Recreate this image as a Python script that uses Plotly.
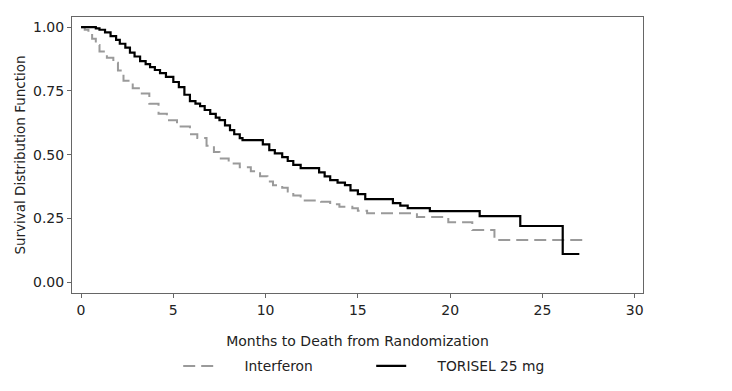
import plotly.graph_objects as go

# Kaplan-Meier step points (months, survival)
torisel_t = [0, 0.8, 1.0, 1.3, 1.6, 1.9, 2.1, 2.4, 2.65, 2.9, 3.2, 3.5, 3.74, 4.0, 4.28, 4.6,
             5.0, 5.3, 5.6, 5.9, 6.2, 6.45, 6.7, 7.0, 7.3, 7.5, 7.8, 8.07, 8.3, 8.6, 8.75,
             9.85, 10.2, 10.5, 10.9, 11.2, 11.5, 11.9, 12.9, 13.2, 13.5, 13.9, 14.3, 14.6,
             15.0, 15.4, 16.9, 17.3, 17.7, 18.9, 21.6, 23.8, 26.1, 27.0]
torisel_s = [1.00, 0.995, 0.99, 0.98, 0.965, 0.95, 0.935, 0.92, 0.90, 0.885, 0.867, 0.855,
             0.843, 0.832, 0.82, 0.805, 0.785, 0.765, 0.735, 0.71, 0.70, 0.69, 0.675, 0.66,
             0.645, 0.635, 0.615, 0.596, 0.58, 0.565, 0.557, 0.54, 0.518, 0.505, 0.49, 0.475,
             0.46, 0.447, 0.43, 0.415, 0.40, 0.39, 0.38, 0.36, 0.345, 0.325, 0.31, 0.30, 0.29,
             0.278, 0.259, 0.22, 0.11, 0.11]

interferon_t = [0, 0.2, 0.4, 0.6, 0.8, 1.0, 1.4, 1.75, 2.0, 2.3, 2.8, 3.2, 3.7, 4.2, 4.65,
                5.2, 5.9, 6.3, 6.8, 7.2, 7.5, 8.0, 8.6, 9.2, 9.7, 10.1, 10.4, 10.9, 11.2,
                11.5, 11.9, 13.0, 13.5, 14.0, 14.7, 15.0, 15.5, 18.2, 19.9, 21.2, 22.4, 27.4]
interferon_s = [1.00, 0.99, 0.975, 0.955, 0.93, 0.905, 0.88, 0.86, 0.83, 0.79, 0.76, 0.74,
                0.70, 0.66, 0.635, 0.61, 0.58, 0.565, 0.535, 0.51, 0.485, 0.465, 0.45, 0.435,
                0.415, 0.395, 0.38, 0.37, 0.355, 0.34, 0.32, 0.315, 0.305, 0.295, 0.29, 0.28,
                0.27, 0.255, 0.235, 0.204, 0.165, 0.165]

x_ticks = [0, 5, 10, 15, 20, 25, 30]
y_ticks = [0.00, 0.25, 0.50, 0.75, 1.00]
y_tick_labels = ["0.00", "0.25", "0.50", "0.75", "1.00"]

NB = "\u00a0" * 6

fig = go.Figure()
fig.add_trace(go.Scatter(
    x=interferon_t, y=interferon_s, mode="lines", line_shape="hv",
    name=NB + "Interferon",
    line=dict(color="#9a9a9a", width=2, dash="12px,6px"),
))
fig.add_trace(go.Scatter(
    x=torisel_t, y=torisel_s, mode="lines", line_shape="hv",
    name=NB + "TORISEL 25 mg",
    line=dict(color="#000000", width=2.2),
))

axis_font = dict(family="DejaVu Sans, Liberation Sans, sans-serif", size=14, color="#222")
ytitle_font = dict(family="DejaVu Sans, Liberation Sans, sans-serif", size=13.5, color="#222")
legend_font = dict(family="DejaVu Sans, Liberation Sans, sans-serif", size=13.8, color="#222")

fig.update_layout(
    width=724, height=383,
    margin=dict(l=64, r=89, t=9, b=98, autoexpand=False),
    paper_bgcolor="white", plot_bgcolor="white",
    font=axis_font,
    showlegend=True,
    legend=dict(
        orientation="h", x=0.186, xanchor="left", y=-0.208, yanchor="top",
        entrywidth=148, entrywidthmode="pixels",
        font=legend_font, bgcolor="rgba(0,0,0,0)",
    ),
    xaxis=dict(
        range=[-0.49, 30.45], tickmode="array", tickvals=x_ticks,
        ticks="outside", ticklen=4, tickcolor="#666",
        showline=True, linecolor="#666", linewidth=1, mirror=True,
        showgrid=False, zeroline=False, automargin=False,
        title=dict(text="Months to Death from Randomization", font=axis_font, standoff=19),
        tickfont=axis_font,
    ),
    yaxis=dict(
        range=[-0.043, 1.04], tickmode="array", tickvals=y_ticks, ticktext=y_tick_labels,
        ticks="outside", ticklen=4, tickcolor="#666",
        showline=True, linecolor="#666", linewidth=1, mirror=True,
        showgrid=False, zeroline=False, automargin=False,
        title=dict(text="Survival Distribution Function", font=ytitle_font, standoff=4),
        tickfont=axis_font,
    ),
)

fig.write_html("out.html")
